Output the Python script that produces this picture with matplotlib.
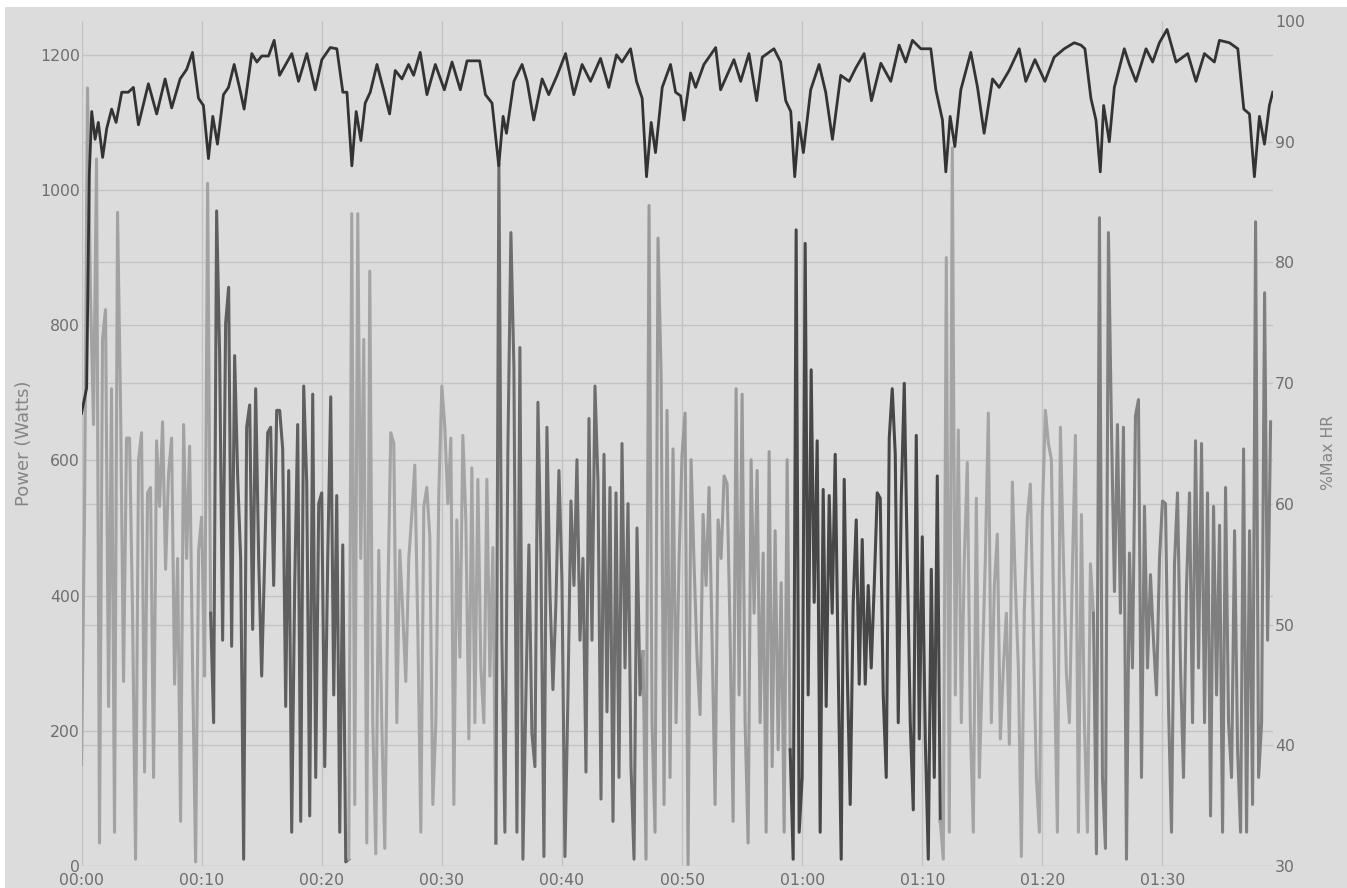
import numpy as np
import matplotlib
matplotlib.use("Agg")
import matplotlib.pyplot as plt
from matplotlib.patches import Rectangle
from matplotlib.ticker import FuncFormatter, MultipleLocator

SAMPLE_MIN = 0.25  # power logged every 15 s

# power (W) per interval block, in ride order
p_warmup = [150, 520, 1151, 844, 653, 1046, 34, 779, 823, 236, 706, 50, 967, 682, 273,
            633, 633, 374, 10, 601, 641, 139, 552, 560, 131, 629, 532, 657, 439, 581,
            633, 269, 455, 66, 653, 455, 621, 293, 6, 467, 516, 281, 1010, 374]
p_int1 = [212, 969, 755, 334, 803, 856, 325, 755, 577, 455, 10, 649, 682, 350, 706,
          455, 281, 455, 641, 649, 415, 674, 674, 617, 236, 585, 50, 415, 653, 66,
          710, 568, 74, 698, 131, 536, 552, 147, 455, 694, 253, 548, 50, 475, 6, 10]
p_rec1 = [965, 91, 965, 455, 779, 34, 880, 212, 18, 467, 212, 26, 390, 641, 625,
          212, 467, 374, 273, 455, 520, 593, 350, 50, 532, 560, 487, 91, 212, 552,
          710, 649, 536, 633, 91, 512, 309, 637, 512, 188, 589, 212, 572, 293, 212,
          572, 281, 471, 34]
p_int2 = [1040, 334, 50, 617, 937, 738, 50, 767, 10, 253, 475, 196, 147, 686, 455,
          14, 649, 406, 261, 390, 585, 423, 14, 253, 540, 415, 601, 334, 455, 139,
          662, 334, 710, 568, 99, 609, 228, 560, 66, 552, 131, 625, 293, 536, 147,
          10, 500, 253, 317]
p_rec2 = [10, 977, 212, 50, 929, 730, 91, 674, 131, 617, 212, 455, 609, 670, 2,
          601, 447, 309, 224, 520, 415, 560, 334, 91, 512, 455, 577, 565, 342, 66,
          706, 253, 698, 212, 34, 601, 374, 585, 212, 463, 50, 613, 147, 496, 172,
          419, 50, 601, 172]
p_int3 = [10, 941, 50, 131, 921, 253, 734, 390, 629, 50, 557, 236, 548, 374, 609,
          293, 10, 572, 293, 91, 390, 512, 269, 483, 269, 415, 293, 415, 552, 544,
          253, 131, 633, 706, 609, 212, 544, 714, 455, 212, 83, 637, 188, 487, 188,
          10, 439, 131, 577, 66]
p_rec3 = [10, 900, 50, 1062, 253, 645, 212, 455, 597, 212, 50, 544, 131, 293, 455,
          670, 212, 415, 491, 188, 293, 374, 180, 568, 415, 293, 14, 382, 516, 565,
          342, 131, 50, 520, 674, 625, 601, 293, 50, 649, 455, 285, 212, 439, 637,
          50, 520, 212, 50, 447, 374]
p_int4 = [18, 959, 131, 26, 937, 649, 406, 653, 374, 649, 10, 463, 293, 666, 690,
          131, 532, 293, 431, 334, 253, 455, 540, 536, 236, 50, 447, 552, 293, 131,
          415, 552, 212, 629, 293, 625, 212, 552, 74, 532, 253, 504, 50, 560, 212,
          131, 496, 172, 50, 617, 50, 496, 91, 953, 131, 212, 848, 334, 657]

power_blocks = [p_warmup, p_int1, p_rec1, p_int2, p_rec2, p_int3, p_rec3, p_int4]
block_colors = ["#a2a2a2", "#5f5f5f", "#a4a4a4", "#6d6d6d",
                "#9a9a9a", "#474747", "#a4a4a4", "#7f7f7f"]

# heart rate as % of max, read at irregular times (minutes)
hr_min = [0.0, 0.43, 0.65, 0.85, 1.13, 1.40, 1.76, 2.10, 2.51, 2.88, 3.35, 3.90, 4.32,
          4.74, 5.57, 6.26, 6.96, 7.51, 8.21, 8.76, 9.24, 9.74, 10.15, 10.57, 10.93,
          11.32, 11.82, 12.24, 12.71, 13.15, 13.54, 14.18, 14.60, 15.01, 15.57, 16.04,
          16.49, 17.51, 18.07, 18.76, 19.46, 20.01, 20.71, 21.26, 21.76, 22.1, 22.51,
          22.87, 23.26, 23.62, 24.04, 24.6, 25.15, 25.65, 26.12, 26.68, 27.23, 27.65,
          28.2, 28.76, 29.46, 30.21, 30.85, 31.54, 32.1, 33.15, 33.63, 34.18, 34.74,
          35.1, 35.38, 36.0, 36.68, 37.1, 37.65, 38.35, 38.9, 39.6, 40.3, 40.99, 41.68,
          42.38, 43.21, 43.9, 44.54, 45.0, 45.71, 46.21, 46.68, 47.04, 47.43, 47.79,
          48.35, 49.04, 49.46, 49.88, 50.16, 50.71, 51.13, 51.82, 52.8, 53.21, 54.32,
          54.88, 55.57, 56.21, 56.68, 57.65, 58.21, 58.63, 59.05, 59.38, 59.74, 60.1,
          60.71, 61.41, 61.96, 62.52, 63.21, 63.91, 64.46, 65.16, 65.77, 66.55, 67.38,
          68.07, 68.62, 69.18, 69.88, 70.71, 71.13, 71.68, 71.96, 72.32, 72.71, 73.21,
          74.04, 74.6, 75.15, 75.85, 76.4, 77.23, 78.07, 78.62, 79.38, 80.21, 80.98,
          81.82, 82.65, 83.21, 83.54, 84.04, 84.46, 84.82, 85.1, 85.57, 85.99, 86.82,
          87.24, 87.79, 88.63, 89.18, 89.74, 90.38, 91.13, 92.1, 92.79, 93.49, 94.32,
          94.74, 95.57, 96.27, 96.77, 97.24, 97.65, 98.07, 98.49, 98.9, 99.18]
hr_pct = [67.5, 69.6, 87.3, 92.5, 90.2, 91.6, 88.7, 91.1, 92.7, 91.6, 94.1, 94.1, 94.5,
          91.4, 94.8, 92.3, 95.2, 92.8, 95.2, 96.0, 97.4, 93.6, 93.0, 88.6, 92.1,
          89.8, 93.9, 94.5, 96.4, 94.5, 92.7, 97.3, 96.6, 97.1, 97.1, 98.4,
          95.5, 97.3, 95.0, 97.3, 94.3, 96.8, 97.8, 97.7, 94.1, 94.1, 88.0,
          92.5, 90.1, 93.2, 94.1, 96.4, 94.3, 92.3, 95.9, 95.2, 96.4, 95.5,
          97.4, 93.9, 96.4, 94.3, 96.6, 94.3, 96.7, 96.7, 93.9, 93.2, 88.0,
          92.1, 90.7, 95.0, 96.4, 95.0, 91.8, 95.2, 93.9, 95.5, 97.3, 93.9, 96.4,
          95.0, 96.9, 94.5, 97.2, 96.6, 97.7, 95.0, 93.6, 87.1, 91.6, 89.1,
          94.5, 96.4, 94.1, 93.8, 91.8, 95.7, 94.5, 96.4, 97.8, 94.3, 96.8,
          95.0, 97.3, 93.4, 97.0, 97.7, 96.6, 93.4, 92.5, 87.1, 91.6, 89.1,
          94.3, 96.4, 94.1, 90.2, 95.5, 95.0, 96.1, 97.3, 93.4, 96.5, 95.0,
          98.0, 96.6, 98.4, 97.7, 97.7, 94.3, 91.8, 87.5, 92.1, 89.6, 94.3,
          97.4, 94.5, 90.7, 95.2, 94.5, 95.9, 97.7, 95.0, 96.8, 95.0, 97.0,
          97.7, 98.2, 98.0, 97.7, 93.6, 91.8, 87.5, 93.0, 90.0, 94.5, 97.7,
          96.4, 95.0, 97.7, 96.6, 98.2, 99.3, 96.6, 97.3, 95.0, 97.3, 96.6,
          98.4, 98.2, 97.7, 92.7, 92.3, 87.1, 92.1, 89.8, 93.0, 94.1]

BG = "#dcdcdc"
GRID = "#c3c3c3"
TICK_COL = "#6e6e6e"
LABEL_COL = "#858585"
P_LIM = (0, 1250)
HR_LIM = (30, 100)

W, H = 1347, 888
fig = plt.figure(figsize=(W / 100, H / 100), dpi=100)
fig.patch.set_facecolor("white")
fig.add_artist(Rectangle((5 / W, 0), 1, 1 - 7 / H, transform=fig.transFigure,
                         facecolor=BG, edgecolor="none", zorder=-10))

ax = fig.add_axes([81.5 / W, 22 / H, (1273 - 81.5) / W, (866 - 21) / H])
ax.set_facecolor(BG)
ax.set_xlim(0, 99.2)
ax.set_ylim(*P_LIM)
for s in ax.spines.values():
    s.set_visible(False)

# power trace, one shade per block, joined to the previous block
start = 0
prev = None
for watts, col in zip(power_blocks, block_colors):
    idx = np.arange(start, start + len(watts))
    t = idx * SAMPLE_MIN
    y = np.asarray(watts, dtype=float)
    if prev is not None:
        t = np.concatenate([[prev[0]], t])
        y = np.concatenate([[prev[1]], y])
    ax.plot(t, y, color=col, lw=2.2, zorder=2)
    prev = (t[-1], y[-1])
    start += len(watts)

ax.xaxis.set_major_locator(MultipleLocator(10))
ax.xaxis.set_major_formatter(FuncFormatter(lambda m, _: f"{int(m // 60):02d}:{int(m % 60):02d}"))
ax.set_yticks(np.arange(0, 1201, 200))
ax.grid(True, color=GRID, lw=1.0, zorder=0)
ax.set_axisbelow(True)
ax.tick_params(axis="both", length=0, labelsize=11.3, labelcolor=TICK_COL)
ax.tick_params(axis="y", pad=1)
ax.tick_params(axis="x", pad=5)
fig.canvas.draw()
ax.xaxis.get_gridlines()[0].set_visible(False)

ax.set_ylabel("Power (Watts)", fontsize=13, color=LABEL_COL)
ax.yaxis.set_label_coords(-0.0411, 0.5)

# heart rate axis on the right
ax2 = ax.twinx()
ax2.set_ylim(*HR_LIM)
ax2.set_yticks(np.arange(30, 101, 10))
ax2.patch.set_visible(False)
for s in ax2.spines.values():
    s.set_visible(False)
ax2.tick_params(axis="y", length=0, labelsize=11.3, labelcolor=TICK_COL, pad=1.5)
ax2.set_ylabel("%Max HR", fontsize=11.3, color=LABEL_COL)
ax2.yaxis.set_label_coords(1.0399, 0.49)

# heart-rate grid drawn on the power axes so it stays behind the trace
for v in np.arange(40, 91, 10):
    pw = P_LIM[0] + (v - HR_LIM[0]) / (HR_LIM[1] - HR_LIM[0]) * (P_LIM[1] - P_LIM[0])
    ax.axhline(pw, color=GRID, lw=1.0, zorder=0)

ax2.plot(hr_min, hr_pct, color="#333333", lw=2.0, zorder=3)

fig.savefig("out.png", dpi=100)
